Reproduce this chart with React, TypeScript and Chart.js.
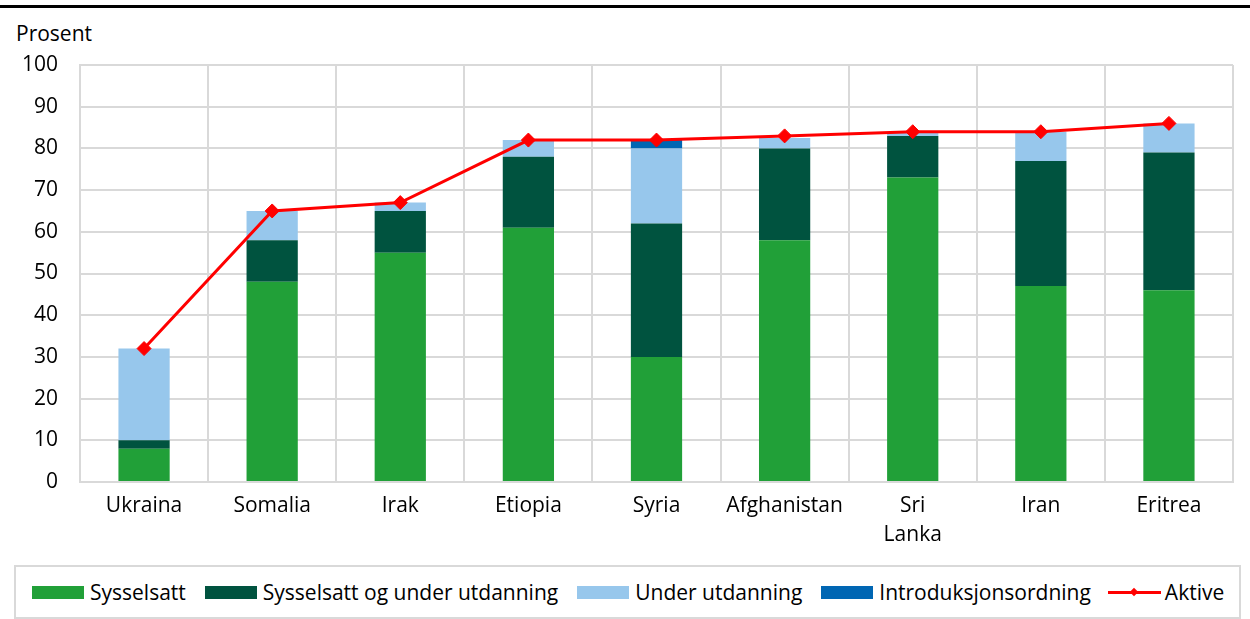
import React, { useEffect, useRef } from "react";
import { Chart, registerables } from "chart.js";

Chart.register(...registerables);

const categories: (string | string[])[] = ["Ukraina", "Somalia", "Irak", "Etiopia", "Syria", "Afghanistan", ["Sri", "Lanka"], "Iran", "Eritrea"];
const sysselsatt = [8, 48, 55, 61, 30, 58, 73, 47, 46];
const sysselsattUtdanning = [2, 10, 10, 17, 32, 22, 10, 30, 33];
const underUtdanning = [22, 7, 2, 4, 18, 2.5, 0.8, 7, 7];
const introduksjon = [0, 0, 0, 0, 2, 0, 0, 0, 0];
const aktive = [32, 65, 67, 82, 82, 83, 84, 84, 86];

const seriesNames = ["Sysselsatt", "Sysselsatt og under utdanning", "Under utdanning", "Introduksjonsordning", "Aktive"];
const colors = ["#21A038", "#00533F", "#97C7EC", "#0066B3", "#FF0000"];

const FONT = "'Open Sans', sans-serif";
const FS = 21;

export default function App() {
  const ref = useRef<HTMLCanvasElement | null>(null);

  useEffect(() => {
    document.body.style.margin = "0";
    if (!ref.current) return;
    const barCommon = { barPercentage: 0.8, categoryPercentage: 0.5, order: 2, borderWidth: 0, stack: "s" };
    const chart = new Chart(ref.current, {
      type: "bar",
      data: {
        labels: categories as any,
        datasets: [
          { type: "line", label: seriesNames[4], data: aktive, borderColor: colors[4], backgroundColor: colors[4], borderWidth: 3, pointStyle: "rectRot", pointRadius: 7, pointBorderWidth: 1, pointBackgroundColor: colors[4], order: 0, tension: 0 } as any,
          { label: seriesNames[0], data: sysselsatt, backgroundColor: colors[0], ...barCommon },
          { label: seriesNames[1], data: sysselsattUtdanning, backgroundColor: colors[1], ...barCommon },
          { label: seriesNames[2], data: underUtdanning, backgroundColor: colors[2], ...barCommon },
          { label: seriesNames[3], data: introduksjon, backgroundColor: colors[3], ...barCommon },
        ],
      },
      options: {
        animation: false,
        responsive: false,
        maintainAspectRatio: false,
        layout: { padding: { top: 65, right: 17, left: 0, bottom: 0 } },
        plugins: { legend: { display: false }, tooltip: { enabled: false } },
        scales: {
          x: {
            stacked: true,
            grid: { color: "#D9D9D9", lineWidth: 2, drawTicks: false, offset: true },
            border: { color: "#D9D9D9", width: 2 },
            ticks: { color: "#000", font: { family: FONT, size: FS, lineHeight: 1.38 }, padding: 10, maxRotation: 0, autoSkip: false },
            afterFit: (s: any) => { s.height = 68; },
          },
          y: {
            stacked: true,
            min: 0,
            max: 100,
            ticks: { stepSize: 10, color: "#000", font: { family: FONT, size: FS }, padding: 22 },
            grid: { color: "#D9D9D9", lineWidth: 2, drawTicks: false },
            border: { color: "#D9D9D9", width: 2 },
            afterFit: (s: any) => { s.width = 80; },
          },
        },
      },
    });
    return () => chart.destroy();
  }, []);

  const swatch = (i: number) =>
    i === 4 ? (
      <span style={{ position: "relative", width: 53, height: 13, display: "inline-block", marginRight: 4 }}>
        <span style={{ position: "absolute", left: 0, top: 5, width: 53, height: 3, background: colors[4] }} />
        <span style={{ position: "absolute", left: 23.5, top: 3, width: 6, height: 6, background: colors[4], transform: "rotate(45deg)" }} />
      </span>
    ) : (
      <span style={{ width: 52, height: 13, background: colors[i], display: "inline-block", marginRight: 6 }} />
    );

  return (
    <div style={{ position: "fixed", left: 0, top: 0, width: 1250, height: 619, background: "#fff", fontFamily: FONT, overflow: "hidden" }}>
      <div style={{ position: "absolute", left: 0, top: 5, width: 1250, height: 3, background: "#000" }} />
      <div style={{ position: "absolute", left: 16, top: 19, fontSize: FS, color: "#000", lineHeight: "28px" }}>Prosent</div>
      <canvas ref={ref} width={1250} height={550} style={{ position: "absolute", left: 0, top: 0, width: 1250, height: 550 }} />
      <div style={{ position: "absolute", left: 14, top: 565, width: 1227, height: 54, border: "2px solid #D9D9D9", boxSizing: "border-box", display: "flex", alignItems: "center", paddingLeft: 16, fontSize: FS, color: "#000" }}>
        {seriesNames.map((n, i) => (
          <span key={n} style={{ display: "flex", alignItems: "center", marginRight: i === 3 ? 17 : 19, whiteSpace: "nowrap" }}>
            {swatch(i)}
            <span>{n}</span>
          </span>
        ))}
      </div>
    </div>
  );
}
